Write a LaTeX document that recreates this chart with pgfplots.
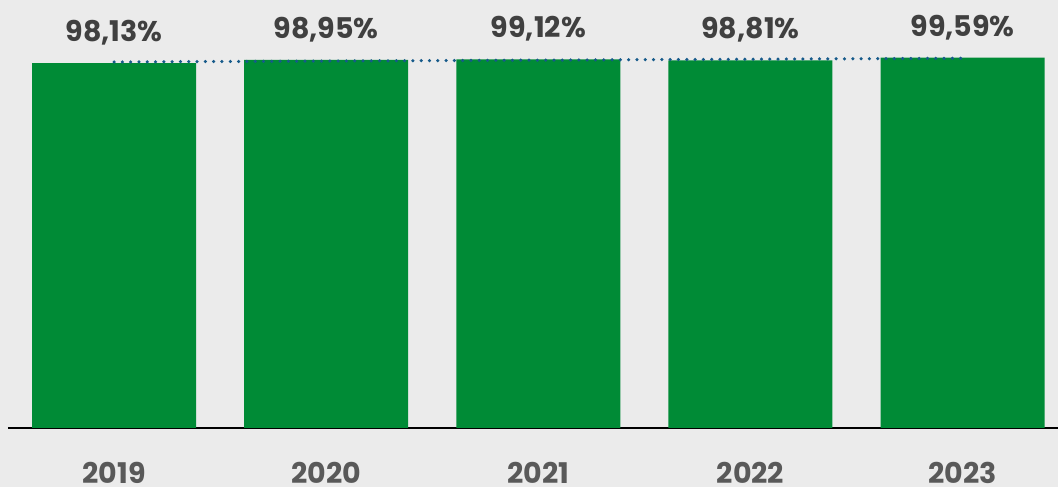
\documentclass[border=0pt]{standalone}
\usepackage{fontspec}
\setmainfont{Poppins}
\usepackage{pgfplots}
\pgfplotsset{compat=1.18}
\definecolor{bg}{RGB}{235,235,235}
\definecolor{barg}{RGB}{0,139,54}
\definecolor{trend}{RGB}{22,90,138}
\definecolor{lbl}{RGB}{64,64,64}
\definecolor{yr}{RGB}{89,89,89}
\begin{document}
\begin{tikzpicture}
\fill[bg] (0,0) rectangle (1058pt,487pt);
\useasboundingbox (0,0) rectangle (1058pt,487pt);
\begin{axis}[
  at={(8pt,59pt)}, anchor=south west,
  scale only axis, width=1050pt, height=428pt,
  xmin=-0.5, xmax=4.45, ymin=0, ymax=115.07,
  axis x line=bottom, axis y line=none,
  x axis line style={-, black, line width=1.5pt},
  ytick=\empty,
  xtick={0,1,2,3,4}, xticklabels={2019,2020,2021,2022,2023},
  major tick length=0pt,
  xticklabel style={font=\fontsize{28.5}{32}\selectfont\bfseries, text=yr, anchor=base, yshift=-56pt},
  /pgf/number format/assume math mode=true,
  clip=false,
]
\addplot[ybar, bar width=0.773, fill=barg, draw=none,
  nodes near coords={\pgfmathprintnumber[fixed, fixed zerofill, precision=2, use comma, assume math mode=true]{\pgfplotspointmeta}\%},
  every node near coord/.append style={font=\fontsize{28.5}{32}\selectfont\bfseries, text=lbl, anchor=base, inner sep=0pt, yshift=21.5pt},
] coordinates {(0,98.13) (1,98.95) (2,99.12) (3,98.81) (4,99.59)};
\addplot[trend, line width=3.5pt, line cap=round, dash pattern=on 0pt off 8.3pt] coordinates {(0,98.40) (4,99.40)};
\end{axis}
\end{tikzpicture}
\end{document}
